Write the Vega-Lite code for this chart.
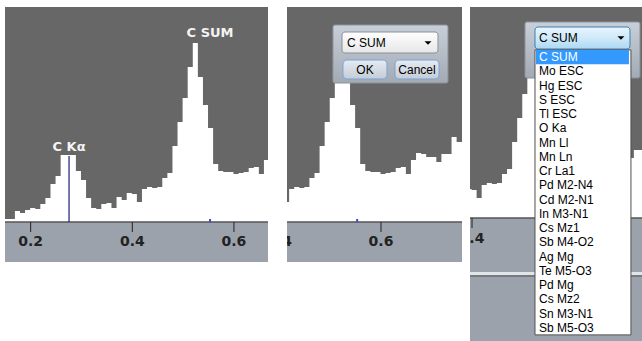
{
  "$schema": "https://vega.github.io/schema/vega-lite/v6.json",
  "padding": {"left": 5, "top": 7, "right": 0, "bottom": 0},
  "background": "white",
  "config": {"view": {"stroke": null, "fill": "#676767"}, "axis": {"disable": true}},
  "datasets": {
    "spec": [{"e":0.149,"c":30},{"e":0.159,"c":30},{"e":0.169,"c":110},{"e":0.179,"c":90},{"e":0.189,"c":120},{"e":0.199,"c":140},{"e":0.209,"c":130},{"e":0.219,"c":180},{"e":0.229,"c":240},{"e":0.239,"c":380},{"e":0.249,"c":460},{"e":0.259,"c":670},{"e":0.269,"c":670},{"e":0.279,"c":670},{"e":0.289,"c":510},{"e":0.299,"c":420},{"e":0.309,"c":240},{"e":0.319,"c":140},{"e":0.329,"c":130},{"e":0.339,"c":180},{"e":0.349,"c":190},{"e":0.359,"c":140},{"e":0.369,"c":250},{"e":0.379,"c":220},{"e":0.389,"c":290},{"e":0.399,"c":280},{"e":0.409,"c":200},{"e":0.419,"c":330},{"e":0.429,"c":350},{"e":0.439,"c":340},{"e":0.449,"c":350},{"e":0.459,"c":440},{"e":0.469,"c":490},{"e":0.479,"c":760},{"e":0.489,"c":1000},{"e":0.499,"c":1240},{"e":0.509,"c":1550},{"e":0.519,"c":1790},{"e":0.529,"c":1450},{"e":0.539,"c":1170},{"e":0.549,"c":940},{"e":0.559,"c":580},{"e":0.569,"c":510},{"e":0.579,"c":500},{"e":0.589,"c":500},{"e":0.599,"c":480},{"e":0.609,"c":490},{"e":0.619,"c":500},{"e":0.629,"c":540},{"e":0.639,"c":550},{"e":0.649,"c":480},{"e":0.659,"c":620},{"e":0.669,"c":690},{"e":0.679,"c":680},{"e":0.689,"c":650},{"e":0.699,"c":650},{"e":0.709,"c":600},{"e":0.719,"c":680},{"e":0.729,"c":680},{"e":0.739,"c":850},{"e":0.749,"c":800},{"e":0.759,"c":800},{"e":0.769,"c":800}],
    "ticks": [{"t":0.2,"l":"0.2"},{"t":0.4,"l":"0.4"},{"t":0.6,"l":"0.6"}],
    "peaks": [{"l":"C Kα","e":0.2755,"c":750,"h":660},{"l":"C SUM","e":0.553,"c":1890,"h":0}],
    "items": [{"row":0,"name":"C SUM"},{"row":1,"name":"Mo ESC"},{"row":2,"name":"Hg ESC"},{"row":3,"name":"S ESC"},{"row":4,"name":"Tl ESC"},{"row":5,"name":"O Ka"},{"row":6,"name":"Mn Ll"},{"row":7,"name":"Mn Ln"},{"row":8,"name":"Cr La1"},{"row":9,"name":"Pd M2-N4"},{"row":10,"name":"Cd M2-N1"},{"row":11,"name":"In M3-N1"},{"row":12,"name":"Cs Mz1"},{"row":13,"name":"Sb M4-O2"},{"row":14,"name":"Ag Mg"},{"row":15,"name":"Te M5-O3"},{"row":16,"name":"Pd Mg"},{"row":17,"name":"Cs Mz2"},{"row":18,"name":"Sn M3-N1"},{"row":19,"name":"Sb M5-O3"}],
    "one": [{}]
  },
  "hconcat": [
    {
      "width": 263, "height": 255,
      "layer": [
        {"data": {"name": "one"}, "mark": {"type": "rect", "fill": "#9ba2ab", "clip": true},
         "encoding": {"y": {"datum": -2000, "type": "quantitative", "scale": {"domain": [-400, 2150], "nice": false, "zero": false}}, "y2": {"datum": 0}}},
        {"data": {"name": "spec"}, "mark": {"type": "area", "interpolate": "step-after", "fill": "white", "clip": true},
         "encoding": {"x": {"field": "e", "type": "quantitative", "scale": {"domain": [0.1495, 0.667], "nice": false, "zero": false}}, "y": {"field": "c", "type": "quantitative"}, "y2": {"datum": 0}}},
        {"data": {"name": "one"}, "mark": {"type": "rule", "color": "#555555", "strokeWidth": 1.5, "clip": true},
         "encoding": {"y": {"datum": 0, "type": "quantitative"}}},
        {"data": {"name": "ticks"}, "mark": {"type": "rule", "color": "#222222", "strokeWidth": 1, "clip": true},
         "encoding": {"x": {"field": "t", "type": "quantitative"}, "y": {"datum": 0, "type": "quantitative"}, "y2": {"datum": -100}}},
        {"data": {"name": "ticks"}, "mark": {"type": "text", "font": "DejaVu Sans", "fontWeight": "bold", "fontSize": 14, "fill": "#222222", "baseline": "middle", "align": "center", "clip": true},
         "encoding": {"x": {"field": "t", "type": "quantitative"}, "y": {"datum": -200, "type": "quantitative"}, "text": {"field": "l"}}},
        {"data": {"name": "peaks"}, "transform": [{"filter": "datum.h > 0"}], "mark": {"type": "rule", "color": "#1c1c7a", "strokeWidth": 1.2, "clip": true},
         "encoding": {"x": {"field": "e", "type": "quantitative"}, "y": {"field": "h", "type": "quantitative"}, "y2": {"datum": 0}}},
        {"data": {"name": "peaks"}, "transform": [{"filter": "datum.h == 0"}], "mark": {"type": "rule", "color": "#4646c8", "strokeWidth": 2, "clip": true},
         "encoding": {"x": {"field": "e", "type": "quantitative"}, "y": {"datum": 0, "type": "quantitative"}, "y2": {"datum": 30}}},
        {"data": {"name": "peaks"}, "mark": {"type": "text", "font": "DejaVu Sans", "fontWeight": "bold", "fontSize": 13, "fill": "#f4f4f4", "baseline": "middle", "align": "center", "clip": true},
         "encoding": {"x": {"field": "e", "type": "quantitative"}, "y": {"field": "c", "type": "quantitative"}, "text": {"field": "l"}}}
      ]
    },
    {
      "spacing": 8,
      "hconcat": [
        {
          "width": 175, "height": 255,
          "layer": [
            {"data": {"name": "one"}, "mark": {"type": "rect", "fill": "#9ba2ab", "clip": true},
             "encoding": {"y": {"datum": -2000, "type": "quantitative", "scale": {"domain": [-400, 2150], "nice": false, "zero": false}}, "y2": {"datum": 0}}},
            {"data": {"name": "spec"}, "mark": {"type": "area", "interpolate": "step-after", "fill": "white", "clip": true},
             "encoding": {"x": {"field": "e", "type": "quantitative", "scale": {"domain": [0.4148, 0.7596], "nice": false, "zero": false}}, "y": {"field": "c", "type": "quantitative"}, "y2": {"datum": 0}}},
            {"data": {"name": "one"}, "mark": {"type": "rule", "color": "#555555", "strokeWidth": 1.5, "clip": true},
             "encoding": {"y": {"datum": 0, "type": "quantitative"}}},
            {"data": {"name": "ticks"}, "transform": [{"filter": "datum.t > 0.3"}], "mark": {"type": "rule", "color": "#222222", "strokeWidth": 1, "clip": true},
             "encoding": {"x": {"field": "t", "type": "quantitative"}, "y": {"datum": 0, "type": "quantitative"}, "y2": {"datum": -100}}},
            {"data": {"name": "ticks"}, "transform": [{"filter": "datum.t > 0.3"}], "mark": {"type": "text", "font": "DejaVu Sans", "fontWeight": "bold", "fontSize": 14, "fill": "#222222", "baseline": "middle", "align": "center", "clip": true},
             "encoding": {"x": {"field": "t", "type": "quantitative"}, "y": {"datum": -200, "type": "quantitative"}, "text": {"field": "l"}}},
            {"data": {"name": "peaks"}, "transform": [{"filter": "datum.h == 0"}], "mark": {"type": "rule", "color": "#4646c8", "strokeWidth": 2, "clip": true},
             "encoding": {"x": {"field": "e", "type": "quantitative"}, "y": {"datum": 0, "type": "quantitative"}, "y2": {"datum": 30}}},
            {"data": {"name": "one"}, "mark": {"type": "rect", "clip": true, "stroke": "#8c939c", "strokeWidth": 1, "cornerRadius": 2,
               "fill": {"gradient": "linear", "x1": 0, "y1": 0, "x2": 0, "y2": 1, "stops": [{"offset": 0, "color": "#c8cfd8"}, {"offset": 1, "color": "#a2aab5"}]}},
             "encoding": {"x": {"datum": 0.5054, "type": "quantitative"}, "x2": {"datum": 0.732}, "y": {"datum": 1970, "type": "quantitative"}, "y2": {"datum": 1390}}},
            {"data": {"name": "one"}, "mark": {"type": "rect", "clip": true, "stroke": "#8a9099", "strokeWidth": 1, "cornerRadius": 3,
               "fill": {"gradient": "linear", "x1": 0, "y1": 0, "x2": 0, "y2": 1, "stops": [{"offset": 0, "color": "#ffffff"}, {"offset": 1, "color": "#e6e6e6"}]}},
             "encoding": {"x": {"datum": 0.5232, "type": "quantitative"}, "x2": {"datum": 0.7123}, "y": {"datum": 1900, "type": "quantitative"}, "y2": {"datum": 1690}}},
            {"data": {"name": "one"}, "mark": {"type": "text", "text": "C SUM", "font": "Liberation Sans", "fontSize": 12, "fill": "black", "align": "left", "baseline": "middle", "clip": true},
             "encoding": {"x": {"datum": 0.533, "type": "quantitative"}, "y": {"datum": 1790, "type": "quantitative"}}},
            {"data": {"name": "one"}, "mark": {"type": "point", "shape": "M-1,-0.5L1,-0.5L0,0.5Z", "size": 49, "filled": true, "fill": "black", "opacity": 1, "clip": true},
             "encoding": {"x": {"datum": 0.6926, "type": "quantitative"}, "y": {"datum": 1790, "type": "quantitative"}}},
            {"data": {"name": "one"}, "mark": {"type": "rect", "clip": true, "stroke": "#7aa3d6", "strokeWidth": 1, "cornerRadius": 4,
               "fill": {"gradient": "linear", "x1": 0, "y1": 0, "x2": 0, "y2": 1, "stops": [{"offset": 0, "color": "#e6ebf2"}, {"offset": 1, "color": "#c4ccd7"}]}},
             "encoding": {"x": {"datum": 0.5251, "type": "quantitative"}, "x2": {"datum": 0.6118}, "y": {"datum": 1620, "type": "quantitative"}, "y2": {"datum": 1430}}},
            {"data": {"name": "one"}, "mark": {"type": "rect", "clip": true, "stroke": "#7aa3d6", "strokeWidth": 1, "cornerRadius": 4,
               "fill": {"gradient": "linear", "x1": 0, "y1": 0, "x2": 0, "y2": 1, "stops": [{"offset": 0, "color": "#e6ebf2"}, {"offset": 1, "color": "#c4ccd7"}]}},
             "encoding": {"x": {"datum": 0.6276, "type": "quantitative"}, "x2": {"datum": 0.7143}, "y": {"datum": 1620, "type": "quantitative"}, "y2": {"datum": 1430}}},
            {"data": {"name": "one"}, "mark": {"type": "text", "text": "OK", "font": "Liberation Sans", "fontSize": 12, "fill": "black", "align": "center", "baseline": "middle", "clip": true},
             "encoding": {"x": {"datum": 0.5685, "type": "quantitative"}, "y": {"datum": 1525, "type": "quantitative"}}},
            {"data": {"name": "one"}, "mark": {"type": "text", "text": "Cancel", "font": "Liberation Sans", "fontSize": 12, "fill": "black", "align": "center", "baseline": "middle", "clip": true},
             "encoding": {"x": {"datum": 0.671, "type": "quantitative"}, "y": {"datum": 1525, "type": "quantitative"}}}
          ]
        },
        {
          "width": 172, "height": 338,
          "resolve": {"scale": {"y": "independent"}},
          "layer": [
            {
              "layer": [
                {"data": {"name": "one"}, "mark": {"type": "rect", "fill": "#9ba2ab", "clip": true},
                 "encoding": {"y": {"datum": -2000, "type": "quantitative", "scale": {"domain": [-1270, 2110], "nice": false, "zero": false}}, "y2": {"datum": 0}}},
                {"data": {"name": "one"}, "mark": {"type": "rect", "fill": "#e2e5e8", "clip": true},
                 "encoding": {"y": {"datum": -540, "type": "quantitative"}, "y2": {"datum": -570}}},
                {"data": {"name": "one"}, "mark": {"type": "rule", "color": "#767b82", "strokeWidth": 2, "clip": true},
                 "encoding": {"y": {"datum": -580, "type": "quantitative"}}},
                {"data": {"name": "spec"}, "mark": {"type": "area", "interpolate": "step-after", "fill": "white", "clip": true},
                 "encoding": {"x": {"field": "e", "type": "quantitative", "scale": {"domain": [0.396, 0.735], "nice": false, "zero": false}}, "y": {"field": "c", "type": "quantitative"}, "y2": {"datum": 0}}},
                {"data": {"name": "one"}, "mark": {"type": "rule", "color": "#555555", "strokeWidth": 1.5, "clip": true},
                 "encoding": {"y": {"datum": 0, "type": "quantitative"}}},
                {"data": {"name": "ticks"}, "transform": [{"filter": "datum.t > 0.3 && datum.t < 0.5"}], "mark": {"type": "rule", "color": "#222222", "strokeWidth": 1, "clip": true},
                 "encoding": {"x": {"field": "t", "type": "quantitative"}, "y": {"datum": 0, "type": "quantitative"}, "y2": {"datum": -100}}},
                {"data": {"name": "ticks"}, "transform": [{"filter": "datum.t > 0.3 && datum.t < 0.5"}], "mark": {"type": "text", "font": "DejaVu Sans", "fontWeight": "bold", "fontSize": 14, "fill": "#222222", "baseline": "middle", "align": "center", "clip": true},
                 "encoding": {"x": {"field": "t", "type": "quantitative"}, "y": {"datum": -210, "type": "quantitative"}, "text": {"field": "l"}}},
                {"data": {"name": "one"}, "mark": {"type": "rect", "clip": true, "stroke": "#8c939c", "strokeWidth": 1, "cornerRadius": 2,
                   "fill": {"gradient": "linear", "x1": 0, "y1": 0, "x2": 0, "y2": 1, "stops": [{"offset": 0, "color": "#c8cfd8"}, {"offset": 1, "color": "#a2aab5"}]}},
                 "encoding": {"x": {"datum": 0.5044, "type": "quantitative"}, "x2": {"datum": 0.731}, "y": {"datum": 1960, "type": "quantitative"}, "y2": {"datum": 1400}}},
                {"data": {"name": "one"}, "mark": {"type": "rect", "clip": true, "stroke": "#3c7fb1", "strokeWidth": 1, "cornerRadius": 3,
                   "fill": {"gradient": "linear", "x1": 0, "y1": 0, "x2": 0, "y2": 1, "stops": [{"offset": 0, "color": "#e8f5fd"}, {"offset": 0.5, "color": "#cfe9f9"}, {"offset": 1, "color": "#acd9f3"}]}},
                 "encoding": {"x": {"datum": 0.5241, "type": "quantitative"}, "x2": {"datum": 0.7113}, "y": {"datum": 1910, "type": "quantitative"}, "y2": {"datum": 1690}}},
                {"data": {"name": "one"}, "mark": {"type": "text", "text": "C SUM", "font": "Liberation Sans", "fontSize": 12, "fill": "black", "align": "left", "baseline": "middle", "clip": true},
                 "encoding": {"x": {"datum": 0.532, "type": "quantitative"}, "y": {"datum": 1800, "type": "quantitative"}}},
                {"data": {"name": "one"}, "mark": {"type": "point", "shape": "M-1,-0.5L1,-0.5L0,0.5Z", "size": 49, "filled": true, "fill": "black", "opacity": 1, "clip": true},
                 "encoding": {"x": {"datum": 0.6935, "type": "quantitative"}, "y": {"datum": 1800, "type": "quantitative"}}}
              ]
            },
            {
              "layer": [
                {"data": {"name": "one"}, "mark": {"type": "rect", "fill": "white", "stroke": "#505050", "strokeWidth": 1, "clip": true},
                 "encoding": {"x": {"datum": 0.5241, "type": "quantitative"}, "x2": {"datum": 0.7132}, "y": {"datum": -0.5, "type": "quantitative", "scale": {"domain": [-3.5088, 20.2105], "reverse": true, "nice": false, "zero": false}}, "y2": {"datum": 19.5}}},
                {"data": {"name": "one"}, "mark": {"type": "rect", "fill": "#3399ff", "clip": true},
                 "encoding": {"x": {"datum": 0.5261, "type": "quantitative"}, "x2": {"datum": 0.7093}, "y": {"datum": -0.5, "type": "quantitative"}, "y2": {"datum": 0.5}}},
                {"data": {"name": "items"}, "mark": {"type": "text", "font": "Liberation Sans", "fontSize": 12, "align": "left", "baseline": "middle", "clip": true},
                 "encoding": {"x": {"datum": 0.532, "type": "quantitative"}, "y": {"field": "row", "type": "quantitative"}, "text": {"field": "name"},
                   "color": {"condition": {"test": "datum.row === 0", "value": "white"}, "value": "black"}}}
              ]
            }
          ]
        }
      ]
    }
  ],
  "spacing": 19
}
